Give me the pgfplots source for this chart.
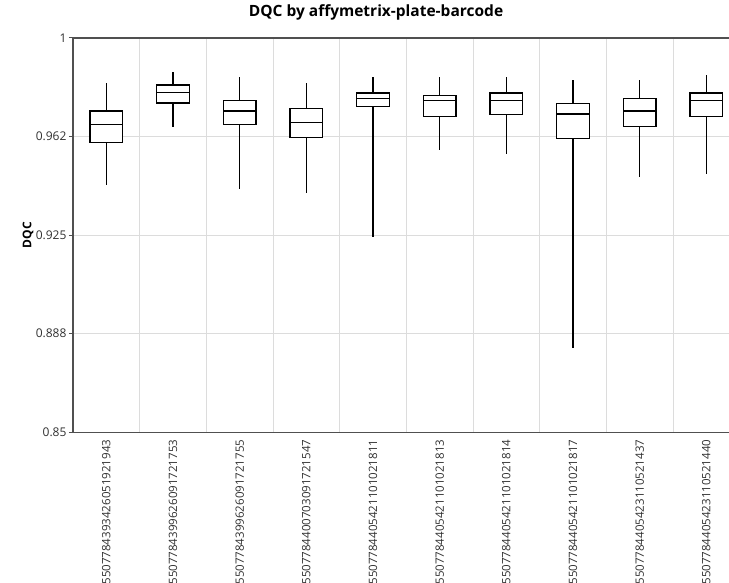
\documentclass[border=0pt]{standalone}
\usepackage{pgfplots}
\pgfplotsset{compat=1.18}
\usepackage{pgfplotstable}
\usepackage{fontspec}
\setmainfont{Open Sans}
\definecolor{axisgray}{HTML}{505050}
\definecolor{gridgray}{HTML}{DCDCDC}
\definecolor{textgray}{HTML}{303030}
\pgfplotsset{boxline/.style={draw=black, line width=1.2pt, mark=none, solid, forget plot}}

\pgfplotstableread{
pos lw lq med uq uw
0 0.9441 0.9603 0.9672 0.9722 0.9830
1 0.9663 0.9753 0.9792 0.9821 0.9872
2 0.9424 0.9672 0.9722 0.9762 0.9851
3 0.9410 0.9620 0.9680 0.9731 0.9829
4 0.9244 0.9739 0.9769 0.9791 0.9851
5 0.9574 0.9701 0.9762 0.9782 0.9851
6 0.9559 0.9710 0.9762 0.9791 0.9851
7 0.8822 0.9618 0.9711 0.9752 0.9841
8 0.9470 0.9663 0.9722 0.9769 0.9841
9 0.9483 0.9701 0.9762 0.9791 0.9859
}\boxdata

\begin{document}
\begin{tikzpicture}
\begin{axis}[
  scale only axis,
  width=666.7pt, height=394.3pt,
  xmin=-0.5, xmax=9.5,
  ymin=0.85, ymax=1,
  ytick={0.85,0.8875,0.925,0.9625,1},
  yticklabels={0.85,0.888,0.925,0.962,1},
  xtick={0,1,2,3,4,5,6,7,8,9},
  xticklabels={5507784393426051921943,5507784399626091721753,5507784399626091721755,5507784400703091721547,5507784405421101021811,5507784405421101021813,5507784405421101021814,5507784405421101021817,5507784405423110521437,5507784405423110521440},
  x tick label style={rotate=90, anchor=east, font=\fontsize{11.5}{12}\selectfont, text=textgray},
  y tick label style={font=\fontsize{12}{13}\selectfont, text=textgray, xshift=1pt},
  minor xtick={0.5,1.5,2.5,3.5,4.5,5.5,6.5,7.5,8.5},
  xminorgrids, ymajorgrids,
  grid style={gridgray, line width=1pt},
  minor grid style={gridgray, line width=1pt},
  axis line style={axisgray, line width=1.3pt},
  xtick style={draw=none},
  ytick style={axisgray, line width=1pt},
  major tick length=4pt,
  tick align=outside,
  ytick pos=left,
  title={DQC by affymetrix-plate-barcode},
  title style={font=\bfseries\fontsize{15.5}{17}\selectfont, at={(axis description cs:0.4545,1)}, anchor=center, yshift=20pt},
  ylabel={DQC},
  ylabel style={font=\bfseries\fontsize{12}{13}\selectfont, at={(axis description cs:-0.0675,0.5)}, anchor=center},
]
\pgfplotsinvokeforeach{0,1,2,3,4,5,6,7,8,9}{
  \pgfplotstablegetelem{#1}{lw}\of\boxdata \let\vlw\pgfplotsretval
  \pgfplotstablegetelem{#1}{lq}\of\boxdata \let\vlq\pgfplotsretval
  \pgfplotstablegetelem{#1}{med}\of\boxdata \let\vmed\pgfplotsretval
  \pgfplotstablegetelem{#1}{uq}\of\boxdata \let\vuq\pgfplotsretval
  \pgfplotstablegetelem{#1}{uw}\of\boxdata \let\vuw\pgfplotsretval
  \pgfmathsetmacro\xl{#1-0.245}
  \pgfmathsetmacro\xr{#1+0.245}
  \edef\doplot{%
    \noexpand\addplot[boxline] coordinates {(#1,\vuq) (#1,\vuw)};
    \noexpand\addplot[boxline] coordinates {(#1,\vlq) (#1,\vlw)};
    \noexpand\addplot[boxline, fill=white] coordinates {(\xl,\vlq) (\xr,\vlq) (\xr,\vuq) (\xl,\vuq)} -- cycle;
    \noexpand\addplot[boxline] coordinates {(\xl,\vmed) (\xr,\vmed)};
  }%
  \doplot
}
\coordinate (O) at (rel axis cs:0,0);
\end{axis}
\pgfresetboundingbox
\path[use as bounding box] ([shift={(-73pt,-150.7pt)}]O) rectangle ([shift={(656pt,432.3pt)}]O);
\end{tikzpicture}
\end{document}
